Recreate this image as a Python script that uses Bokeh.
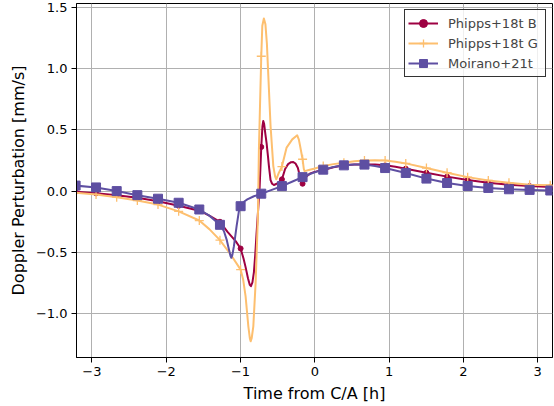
from bokeh.plotting import figure
from bokeh.models import Range1d, FixedTicker, Legend, LegendItem
from bokeh.embed import file_html
from bokeh.resources import INLINE

# ---- data ----
MARK_X = [-3.22, -2.945, -2.667, -2.389, -2.111, -1.833, -1.555, -1.277, -0.999, -0.721,
          -0.443, -0.165, 0.113, 0.391, 0.668, 0.946, 1.224, 1.502, 1.78, 2.057,
          2.335, 2.613, 2.891, 3.169]

B_MARK = [-0.005, -0.018, -0.033, -0.055, -0.083, -0.12, -0.16, -0.25, -0.468, 0.36,
          0.096, 0.06, 0.172, 0.21, 0.218, 0.21, 0.183, 0.15, 0.118, 0.09,
          0.069, 0.052, 0.041, 0.033]
G_MARK = [-0.013, -0.027, -0.05, -0.077, -0.11, -0.165, -0.24, -0.40, -0.64, 1.1,
          0.2, 0.26, 0.205, 0.232, 0.25, 0.25, 0.226, 0.188, 0.15, 0.114,
          0.087, 0.069, 0.052, 0.047]
M_MARK = [0.045, 0.03, 0.0, -0.033, -0.062, -0.095, -0.15, -0.275, -0.123, -0.021,
          0.041, 0.114, 0.175, 0.21, 0.216, 0.188, 0.148, 0.102, 0.066, 0.042,
          0.026, 0.015, 0.01, 0.005]

B_LX = [-3.25, -2.945, -2.667, -2.389, -2.111, -1.833, -1.555, -1.42, -1.277, -1.178,
        -1.066, -0.999, -0.96, -0.932, -0.9, -0.875, -0.86, -0.84, -0.82, -0.8,
        -0.785, -0.766, -0.743, -0.721, -0.705, -0.694, -0.683, -0.667, -0.649, -0.63,
        -0.618, -0.596, -0.575, -0.551, -0.52, -0.49, -0.443, -0.4, -0.36, -0.32,
        -0.29, -0.26, -0.229, -0.2, -0.183, -0.165, -0.14, -0.112, -0.06, -0.013,
        0.05, 0.113, 0.25, 0.391, 0.53, 0.668, 0.81, 0.946, 1.085, 1.224,
        1.502, 1.78, 2.057, 2.335, 2.613, 2.891, 3.169, 3.25]
B_LY = [-0.003, -0.018, -0.033, -0.055, -0.083, -0.12, -0.16, -0.2, -0.25, -0.33,
        -0.408, -0.468, -0.55, -0.62, -0.71, -0.765, -0.775, -0.745, -0.66, -0.5,
        -0.35, -0.18, 0.03, 0.36, 0.53, 0.572, 0.55, 0.47, 0.39, 0.28,
        0.204, 0.09, 0.06, 0.05, 0.058, 0.07, 0.096, 0.18, 0.22, 0.236,
        0.237, 0.225, 0.19, 0.12, 0.085, 0.06, 0.085, 0.12, 0.145, 0.155,
        0.165, 0.172, 0.195, 0.21, 0.216, 0.218, 0.216, 0.21, 0.198, 0.183,
        0.15, 0.118, 0.09, 0.069, 0.052, 0.041, 0.033, 0.031]

G_LX = [-3.25, -2.945, -2.667, -2.389, -2.111, -1.833, -1.555, -1.42, -1.277, -1.133,
        -0.999, -0.965, -0.932, -0.895, -0.875, -0.864, -0.85, -0.828, -0.797, -0.766,
        -0.753, -0.721, -0.707, -0.686, -0.665, -0.645, -0.632, -0.596, -0.559, -0.535,
        -0.519, -0.484, -0.443, -0.38, -0.304, -0.237, -0.215, -0.202, -0.165, -0.148,
        -0.138, -0.081, 0.0, 0.113, 0.25, 0.391, 0.53, 0.668, 0.81, 0.946,
        1.085, 1.224, 1.502, 1.78, 2.057, 2.335, 2.613, 2.891, 3.169, 3.25]
G_LY = [-0.012, -0.027, -0.05, -0.077, -0.11, -0.165, -0.24, -0.31, -0.40, -0.517,
        -0.64, -0.72, -0.858, -1.103, -1.2, -1.225, -1.2, -1.103, -0.748, -0.204,
        0.34, 1.1, 1.348, 1.408, 1.36, 1.2, 1.021, 0.531, 0.204, 0.12,
        0.096, 0.15, 0.2, 0.355, 0.422, 0.455, 0.42, 0.38, 0.26, 0.18,
        0.163, 0.172, 0.185, 0.205, 0.22, 0.232, 0.243, 0.25, 0.252, 0.25,
        0.24, 0.226, 0.188, 0.15, 0.114, 0.087, 0.069, 0.052, 0.047, 0.045]

M_LX = [-3.25, -3.22, -2.945, -2.667, -2.389, -2.111, -1.833, -1.555, -1.42, -1.277,
        -1.223, -1.185, -1.156, -1.135, -1.124, -1.11, -1.089, -1.053, -1.022, -0.999,
        -0.95, -0.909, -0.82, -0.721, -0.58, -0.443, -0.3, -0.165, -0.03, 0.113,
        0.25, 0.391, 0.53, 0.668, 0.81, 0.946, 1.224, 1.502, 1.78, 2.057,
        2.335, 2.613, 2.891, 3.169, 3.25]
M_LY = [0.048, 0.045, 0.03, 0.0, -0.033, -0.062, -0.095, -0.15, -0.2, -0.275,
        -0.327, -0.4, -0.476, -0.53, -0.544, -0.52, -0.449, -0.286, -0.163, -0.123,
        -0.085, -0.068, -0.042, -0.021, 0.01, 0.041, 0.078, 0.114, 0.148, 0.175,
        0.196, 0.21, 0.216, 0.216, 0.205, 0.188, 0.148, 0.102, 0.066, 0.042,
        0.026, 0.015, 0.01, 0.005, 0.004]

LABELS = ["Phipps+18t B", "Phipps+18t G", "Moirano+21t"]

X_TICKS = [-3, -2, -1, 0, 1, 2, 3]
X_TICK_LABELS = ["\u22123", "\u22122", "\u22121", "0", "1", "2", "3"]
Y_TICKS = [-1.0, -0.5, 0.0, 0.5, 1.0, 1.5]
Y_TICK_LABELS = ["\u22121.0", "\u22120.5", "0.0", "0.5", "1.0", "1.5"]

RED = "#9e0142"
ORANGE = "#fdbf6f"
PURPLE = "#5e4fa2"
FONT = "DejaVu Sans"

p = figure(width=554, height=406, output_backend="svg", toolbar_location=None,
           x_range=Range1d(-3.208, 3.199), y_range=Range1d(-1.357, 1.53),
           min_border_left=76, min_border_right=2, min_border_top=3, min_border_bottom=49)
p.background_fill_color = "white"
p.border_fill_color = "white"
p.outline_line_color = "black"
p.outline_line_alpha = 1.0
p.outline_line_width = 1

rb = p.line(B_LX, B_LY, line_color=RED, line_width=2, line_join="round")
sb = p.scatter(MARK_X, B_MARK, marker="circle", size=5, fill_color=RED, line_color=RED)
rg = p.line(G_LX, G_LY, line_color=ORANGE, line_width=2, line_join="round")
sg = p.scatter(MARK_X, G_MARK, marker="cross", size=9, line_color=ORANGE, line_width=1.3)
rm = p.line(M_LX, M_LY, line_color=PURPLE, line_width=2, line_join="round")
sm = p.scatter(MARK_X, M_MARK, marker="square", size=9, fill_color=PURPLE, line_color=PURPLE)

p.xaxis.ticker = FixedTicker(ticks=X_TICKS)
p.yaxis.ticker = FixedTicker(ticks=Y_TICKS)
p.xaxis.major_label_overrides = {t: l for t, l in zip(X_TICKS, X_TICK_LABELS)}
p.yaxis.major_label_overrides = {t: l for t, l in zip(Y_TICKS, Y_TICK_LABELS)}
p.xaxis.axis_label = "Time from C/A [h]"
p.yaxis.axis_label = "Doppler Perturbation [mm/s]"

for ax in (p.xaxis, p.yaxis):
    ax.axis_line_color = "black"
    ax.major_tick_line_color = "black"
    ax.major_tick_out = 5
    ax.major_tick_in = 0
    ax.minor_tick_out = 0
    ax.minor_tick_in = 0
    ax.major_label_text_font = FONT
    ax.major_label_text_font_size = "13px"
    ax.major_label_text_color = "black"
    ax.axis_label_text_font = FONT
    ax.axis_label_text_font_size = "16px"
    ax.axis_label_text_font_style = "normal"
    ax.axis_label_text_color = "black"
    ax.major_label_standoff = 4
    ax.axis_label_standoff = 5

p.grid.grid_line_color = "#b0b0b0"
p.grid.grid_line_width = 1

legend = Legend(items=[LegendItem(label=LABELS[0], renderers=[rb, sb]),
                       LegendItem(label=LABELS[1], renderers=[rg, sg]),
                       LegendItem(label=LABELS[2], renderers=[rm, sm])],
                location="top_right")
legend.label_text_font = FONT
legend.label_text_font_size = "13px"
legend.glyph_width = 30
legend.glyph_height = 20
legend.label_height = 20
legend.label_width = 94
legend.label_standoff = 10
legend.spacing = 0
legend.padding = 3
legend.margin = 6
legend.border_line_color = "black"
legend.border_line_alpha = 0.8
legend.border_line_width = 1
legend.background_fill_alpha = 0.8
p.add_layout(legend)

open("out.html", "w").write(file_html(p, INLINE))
